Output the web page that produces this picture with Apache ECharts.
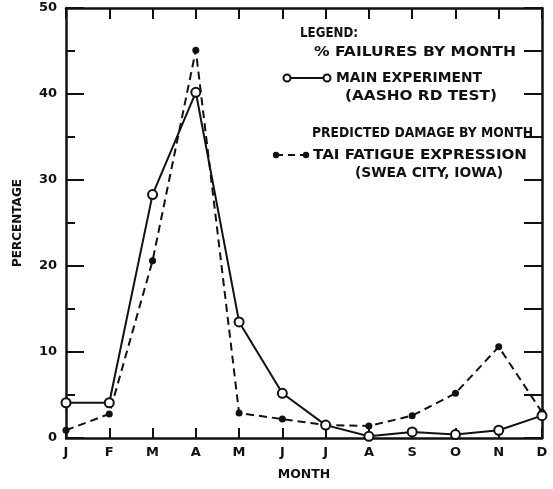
<!DOCTYPE html>
<html>
<head>
<meta charset="utf-8">
<script src="https://cdn.jsdelivr.net/npm/echarts@6/dist/echarts.min.js"></script>
<style>
  html, body { margin: 0; padding: 0; background: #fff; }
  #chart { width: 553px; height: 489px; }
</style>
</head>
<body>
<div id="chart"></div>
<script>
// Month initials along the horizontal axis
const months = ['J', 'F', 'M', 'A', 'M', 'J', 'J', 'A', 'S', 'O', 'N', 'D'];
// Percent of failures by month, AASHO road test main experiment
const mainExperiment = [4.1, 4.1, 28.3, 40.2, 13.5, 5.2, 1.5, 0.2, 0.7, 0.4, 0.9, 2.6];
// Predicted damage by month, Tai fatigue expression (Swea City, Iowa)
const taiFatigue = [0.9, 2.8, 20.6, 45.1, 2.9, 2.2, 1.5, 1.4, 2.6, 5.2, 10.6, 3.0];
// Vertical scale
const yTicks = [0, 10, 20, 30, 40, 50];

const FONT = '"DejaVu Sans", "Liberation Sans", sans-serif';
const LEGEND_FONT = 'bold 13.5px ' + FONT;
const INK = '#111';

const chart = echarts.init(document.getElementById('chart'), null, { renderer: 'canvas' });

// Lettering in the key is hand-spaced, so each line is stretched to span x1..x2
const measureCtx = document.createElement('canvas').getContext('2d');
function legendText(x1, x2, y, text) {
  measureCtx.font = LEGEND_FONT;
  const w = measureCtx.measureText(text).width;
  return {
    type: 'text', x: x1, y: y, scaleX: (x2 - x1) / w,
    style: { text: text, font: LEGEND_FONT, fill: INK, align: 'left', verticalAlign: 'middle' }
  };
}

const graphics = [
  legendText(300, 358, 33, 'LEGEND:'),
  legendText(314, 516, 52, '% FAILURES BY MONTH'),
  { type: 'line', shape: { x1: 287, y1: 78, x2: 327, y2: 78 }, style: { stroke: INK, lineWidth: 2 } },
  { type: 'circle', shape: { cx: 287, cy: 78, r: 3.5 }, style: { fill: '#fff', stroke: INK, lineWidth: 2 } },
  { type: 'circle', shape: { cx: 327, cy: 78, r: 3.5 }, style: { fill: '#fff', stroke: INK, lineWidth: 2 } },
  legendText(336, 482, 78, 'MAIN EXPERIMENT'),
  legendText(345, 497, 96, '(AASHO RD TEST)'),
  legendText(312, 533, 133, 'PREDICTED DAMAGE BY MONTH'),
  { type: 'line', shape: { x1: 276, y1: 155, x2: 306, y2: 155 }, style: { stroke: INK, lineWidth: 2, lineDash: [7, 5] } },
  { type: 'circle', shape: { cx: 276, cy: 155, r: 3.2 }, style: { fill: INK } },
  { type: 'circle', shape: { cx: 306, cy: 155, r: 3.2 }, style: { fill: INK } },
  legendText(313, 527, 155, 'TAI FATIGUE EXPRESSION'),
  legendText(355, 503, 173, '(SWEA CITY, IOWA)')
];

const axisLine = { show: true, onZero: false, lineStyle: { color: INK, width: 2.5 } };
const labelStyle = { color: INK, fontFamily: FONT, fontWeight: 'bold', fontSize: 13 };

const option = {
  backgroundColor: '#fff',
  animation: false,
  grid: { left: 66, right: 11, top: 8, bottom: 51, containLabel: false },
  xAxis: [
    {
      type: 'category', data: months, boundaryGap: false, position: 'bottom',
      axisLine: axisLine,
      axisTick: { show: true, inside: true, length: 10, interval: 0, lineStyle: { color: INK, width: 2 } },
      axisLabel: Object.assign({ margin: 8, interval: 0 }, labelStyle),
      splitLine: { show: false },
      name: 'MONTH', nameLocation: 'middle', nameGap: 30,
      nameTextStyle: { color: INK, fontFamily: FONT, fontWeight: 'bold', fontSize: 12.5 }
    },
    {
      type: 'category', data: months, boundaryGap: false, position: 'top',
      axisLine: axisLine,
      axisTick: { show: true, inside: true, length: 11, interval: 0, lineStyle: { color: INK, width: 2 } },
      axisLabel: { show: false },
      splitLine: { show: false }
    }
  ],
  yAxis: [
    {
      type: 'value', min: yTicks[0], max: yTicks[yTicks.length - 1], interval: 10, position: 'left',
      axisLine: axisLine,
      axisTick: { show: true, inside: true, length: 18, lineStyle: { color: INK, width: 2 } },
      minorTick: { show: true, splitNumber: 2, length: 9, lineStyle: { color: INK, width: 2 } },
      axisLabel: Object.assign({ margin: 9 }, labelStyle),
      splitLine: { show: false },
      name: 'PERCENTAGE', nameLocation: 'middle', nameGap: 42,
      nameTextStyle: { color: INK, fontFamily: FONT, fontWeight: 'bold', fontSize: 12 }
    },
    {
      type: 'value', min: yTicks[0], max: yTicks[yTicks.length - 1], interval: 5, position: 'right',
      axisLine: axisLine,
      axisTick: { show: true, inside: true, length: 18, lineStyle: { color: INK, width: 2 } },
      axisLabel: { show: false },
      splitLine: { show: false }
    }
  ],
  series: [
    {
      name: 'TAI FATIGUE EXPRESSION', type: 'line', data: taiFatigue, clip: false,
      symbol: 'circle', symbolSize: 7,
      itemStyle: { color: INK },
      lineStyle: { color: INK, width: 2, type: [8, 5] },
      z: 3
    },
    {
      name: 'MAIN EXPERIMENT', type: 'line', data: mainExperiment, clip: false,
      symbol: 'circle', symbolSize: 9,
      itemStyle: { color: '#fff', borderColor: INK, borderWidth: 2 },
      lineStyle: { color: INK, width: 2 },
      z: 4
    }
  ],
  graphic: graphics
};

chart.setOption(option);
</script>
</body>
</html>
